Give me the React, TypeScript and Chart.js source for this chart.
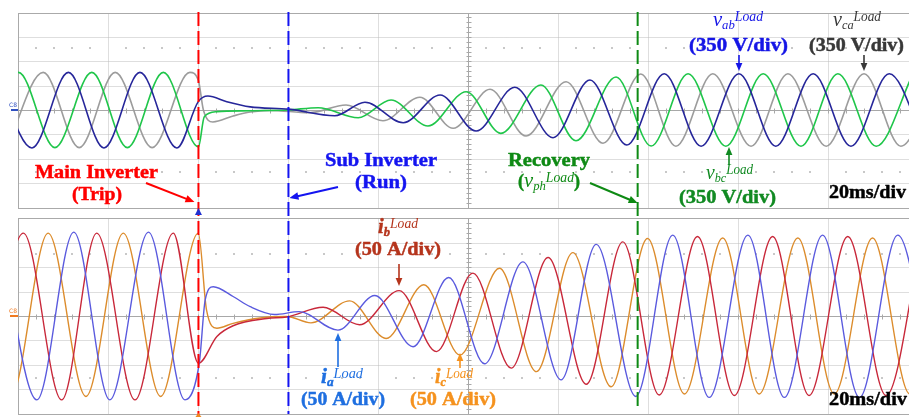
import { useEffect, useRef } from "react";
import { Chart, registerables } from "chart.js";

Chart.register(...registerables);

type Pt = [number, number];

// ---- time base: 20 ms / div ----
const timeGridMs = [0, 20, 40, 60, 80, 100, 120, 140, 160, 180, 200];
// main inverter trip, sub inverter run, recovery
const eventMs = [40.1, 60.1, 137.7];
const voltsPerDiv = 350;
const ampsPerDiv = 50;

// ---- load line voltages (V): extrema, [ms, V] ----
const vabLoad: Pt[] = [
  [-5.0, 540], [3.1, -545], [11.2, 540], [19.1, -545], [27.1, 540], [35.3, -545],
  [40.1, 124], [42.2, 201], [46.4, 119], [51.6, 45], [60.2, 12], [70.4, -82],
  [77.1, 111], [85.6, -182], [93.8, 215], [101.8, -302], [110.4, 326], [118.9, -398],
  [127.1, 431], [135.3, -503], [143.6, 520], [151.8, -520], [160.2, 520], [168.4, -520],
  [176.7, 520], [185.1, -520], [193.6, 520], [201.8, -520],
];
const vbcLoad: Pt[] = [
  [-8.1, -540], [0.1, 540], [8.2, -540], [16.4, 540], [24.3, -540], [32.3, 540],
  [40.1, -530], [41.4, -96], [44.2, -24], [51.6, -10], [60.0, 0], [66.7, 33],
  [75.6, -111], [82.9, 144], [91.1, -230], [99.6, 263], [107.3, -335], [116.2, 359],
  [124.0, -441], [132.9, 474], [140.7, -517], [148.9, 520], [157.3, -520], [165.6, 520],
  [174.0, -520], [182.2, 520], [190.7, -520], [198.9, 520],
];
const vcaLoad: Pt[] = [
  [-2.5, -540], [5.6, 540], [13.6, -540], [21.6, 540], [29.8, -540], [38.2, 540],
  [40.07, 430], [41.2, 0], [43.3, -172], [47.8, -86], [51.6, -29], [56.0, -5],
  [64.7, -40], [72.9, 72], [81.1, -154], [89.3, 182], [96.7, -263], [104.9, 297],
  [112.9, -373], [121.8, 406], [130.0, -478], [138.4, 517], [146.2, -520], [154.4, 520],
  [162.9, -520], [171.1, 520], [179.6, -520], [188.0, 520], [196.2, -520], [204.4, 520],
];

// ---- load currents (A): extrema, [ms, A] ----
const iaLoad: Pt[] = [
  [-4.1, 170], [4.2, -172], [12.4, 172], [20.4, -172], [29.0, 172], [37.1, -172],
  [40.3, -95], [41.6, 33], [43.4, 60], [47.8, 40], [51.6, 19], [57.0, 3], [62.5, 9],
  [71.1, -29], [79.3, 42], [87.8, -63], [95.7, 79], [103.7, -98], [112.2, 111],
  [120.7, -131], [128.5, 147], [137.3, -165], [145.5, 166], [153.6, -167], [162.2, 166],
  [170.3, -167], [178.8, 166], [187.0, -167], [195.5, 166], [203.6, -167],
];
const ibLoad: Pt[] = [
  [-7.1, -170], [1.2, 170], [9.7, -172], [17.5, 170], [26.0, -172], [34.5, 170],
  [40.1, -97], [44.2, -42], [47.8, -20], [55.3, -5], [59.7, -2], [67.8, 18],
  [75.9, -18], [84.7, 52], [93.0, -73], [101.1, 88], [109.6, -107], [117.8, 120],
  [126.3, -140], [134.4, 152], [142.5, -162], [151.0, 163], [159.2, -163], [167.7, 163],
  [175.8, -163], [184.4, 163], [192.9, -163], [200.9, 163],
];
const icLoad: Pt[] = [
  [-9.9, 170], [-1.6, -165], [6.7, 170], [15.1, -165], [23.4, 170], [31.7, -165],
  [40.07, 170], [41.9, 12], [44.2, -25], [47.8, -15], [53.8, -4], [59.7, -1],
  [65.1, -14], [73.7, 31], [81.8, -46], [90.2, 64], [98.2, -80], [107.0, 98],
  [115.2, -114], [123.3, 130], [131.8, -145], [139.9, 159], [148.1, -160], [156.6, 160],
  [164.7, -160], [173.3, 160], [181.4, -160], [189.9, 160], [198.2, -160], [206.4, 160],
];

// ---- layout ----
const W = 909;
const H = 417;
const PLOT_LEFT = 18;
const PX_PER_MS = 4.5;
const DIV_PX = 24.375;
const V_CENTER = 110;
const I_CENTER = 316;
const FONT = "'Liberation Serif', 'DejaVu Serif', serif";

const toXY = (pts: Pt[]) => pts.map(([x, y]) => ({ x, y }));

function drawGrid(chart: any, yId: string, unit: number) {
  const ctx = chart.ctx as CanvasRenderingContext2D;
  const xs = chart.scales.x;
  const ys = chart.scales[yId];
  const px = (t: number) => Math.round(xs.getPixelForValue(t)) + 0.5;
  const py = (v: number) => Math.round(ys.getPixelForValue(v)) + 0.5;
  const left = px(0);
  const right = px(200);
  const top = py(4 * unit);
  const bottom = py(-4 * unit);
  ctx.save();
  ctx.lineWidth = 1;
  ctx.strokeStyle = "#bdbdbd";
  ctx.setLineDash([1, 1]);
  ctx.beginPath();
  for (let k = -3; k <= 3; k++) {
    if (k === 0) continue;
    const y = py(k * unit);
    ctx.moveTo(left, y);
    ctx.lineTo(right, y);
  }
  for (const t of timeGridMs) {
    if (t === 0 || t === 100 || t === 200) continue;
    const x = px(t);
    ctx.moveTo(x, top);
    ctx.lineTo(x, bottom);
  }
  ctx.stroke();
  ctx.setLineDash([]);
  // rows of scope dots
  ctx.fillStyle = "#c8c8c8";
  for (const k of [2.55, -2.55]) {
    const y = Math.round(ys.getPixelForValue(k * unit));
    for (let t = 4; t < 200; t += 4) {
      if (t % 20 === 0) continue;
      const x = Math.round(xs.getPixelForValue(t));
      ctx.fillRect(x - 1, y - 1, 2, 2);
    }
  }
  // centre axes with ticks
  ctx.strokeStyle = "#a8a8a8";
  ctx.beginPath();
  const yc = py(0);
  const xc = px(100);
  ctx.moveTo(left, yc);
  ctx.lineTo(right, yc);
  ctx.moveTo(xc, top);
  ctx.lineTo(xc, bottom);
  for (let t = 4; t < 200; t += 4) {
    const x = px(t);
    ctx.moveTo(x, yc - 2);
    ctx.lineTo(x, yc + 3);
  }
  for (let k = -20; k <= 20; k++) {
    const y = py((k * unit) / 5);
    ctx.moveTo(xc - 2, y);
    ctx.lineTo(xc + 3, y);
  }
  ctx.stroke();
  ctx.strokeStyle = "#aaaaaa";
  ctx.strokeRect(left, top, right - left, bottom - top);
  ctx.restore();
}

function dashV(ctx: CanvasRenderingContext2D, x: number, y0: number, y1: number, color: string) {
  ctx.save();
  ctx.strokeStyle = color;
  ctx.lineWidth = 2;
  ctx.setLineDash([14, 5]);
  ctx.beginPath();
  ctx.moveTo(x, y0);
  ctx.lineTo(x, y1);
  ctx.stroke();
  ctx.restore();
}

function arrow(ctx: CanvasRenderingContext2D, x0: number, y0: number, x1: number, y1: number, color: string, lw = 2, head = 9) {
  const a = Math.atan2(y1 - y0, x1 - x0);
  ctx.save();
  ctx.strokeStyle = color;
  ctx.fillStyle = color;
  ctx.lineWidth = lw;
  ctx.beginPath();
  ctx.moveTo(x0, y0);
  ctx.lineTo(x1 - Math.cos(a) * head * 0.8, y1 - Math.sin(a) * head * 0.8);
  ctx.stroke();
  ctx.beginPath();
  ctx.moveTo(x1, y1);
  ctx.lineTo(x1 - Math.cos(a) * head + Math.sin(a) * head * 0.42, y1 - Math.sin(a) * head - Math.cos(a) * head * 0.42);
  ctx.lineTo(x1 - Math.cos(a) * head - Math.sin(a) * head * 0.42, y1 - Math.sin(a) * head + Math.cos(a) * head * 0.42);
  ctx.closePath();
  ctx.fill();
  ctx.restore();
}

type Seg = { s: string; size: number; bold?: boolean; italic?: boolean; dy?: number };
const segFont = (g: Seg) => `${g.italic ? "italic " : ""}${g.bold ? "bold " : ""}${g.size}px ${FONT}`;

function richText(ctx: CanvasRenderingContext2D, segs: Seg[], x: number, y: number, w: number, color: string) {
  ctx.save();
  let total = 0;
  const widths = segs.map((g) => {
    ctx.font = segFont(g);
    const m = ctx.measureText(g.s).width;
    total += m;
    return m;
  });
  const sx = w / total;
  ctx.translate(x, y);
  ctx.scale(sx, 1);
  ctx.fillStyle = color;
  ctx.strokeStyle = color;
  ctx.lineJoin = "round";
  ctx.textBaseline = "alphabetic";
  let cx = 0;
  segs.forEach((g, i) => {
    ctx.font = segFont(g);
    ctx.fillText(g.s, cx, g.dy || 0);
    if (g.bold) {
      ctx.lineWidth = 0.45;
      ctx.strokeText(g.s, cx, g.dy || 0);
    }
    cx += widths[i];
  });
  ctx.restore();
}

const boldText = (ctx: CanvasRenderingContext2D, s: string, x: number, y: number, w: number, color: string, size = 18.5) =>
  richText(ctx, [{ s, size, bold: true }], x, y, w, color);

const symLabel = (ctx: CanvasRenderingContext2D, main: string, sub: string, x: number, y: number, w: number, color: string, boldMain = false) =>
  richText(
    ctx,
    [
      { s: main, size: 21, italic: true, bold: boldMain },
      { s: sub, size: 13, italic: true, bold: boldMain, dy: 3 },
      { s: "Load", size: 14, italic: true, dy: -5 },
    ],
    x, y, w, color
  );

function drawAnnotations(chart: any) {
  const ctx = chart.ctx as CanvasRenderingContext2D;
  const xs = chart.scales.x;
  const [tTrip, tRun, tRec] = eventMs;
  const xTrip = xs.getPixelForValue(tTrip);
  const xRun = xs.getPixelForValue(tRun);
  const xRec = xs.getPixelForValue(tRec);

  const RED = "#ff0000";
  const BLUE = "#1414f0";
  const GREEN = "#0e8a14";

  dashV(ctx, xTrip, 12, 417, RED);
  dashV(ctx, xRun, 12, 414, BLUE);
  dashV(ctx, xRec, 12, 408, GREEN);

  // trigger marker
  ctx.save();
  ctx.fillStyle = "#2030d0";
  ctx.beginPath();
  ctx.moveTo(xTrip, 208);
  ctx.lineTo(xTrip - 3.5, 215);
  ctx.lineTo(xTrip + 3.5, 215);
  ctx.closePath();
  ctx.fill();
  ctx.fillStyle = "#f08a20";
  ctx.beginPath();
  ctx.moveTo(xTrip, 413);
  ctx.lineTo(xTrip - 3, 417);
  ctx.lineTo(xTrip + 3, 417);
  ctx.closePath();
  ctx.fill();
  // channel markers
  ctx.font = "6px 'DejaVu Sans', sans-serif";
  ctx.fillStyle = "#3050c0";
  ctx.fillText("C8", 9, 107);
  ctx.fillRect(11, 109, 7, 2);
  ctx.fillStyle = "#f07a20";
  ctx.fillText("C8", 9, 313);
  ctx.fillRect(10, 315, 8, 2);
  ctx.restore();

  // event labels
  boldText(ctx, "Main Inverter", 35, 178, 123, RED);
  boldText(ctx, "(Trip)", 72, 200, 50, RED);
  arrow(ctx, 146, 183, xTrip - 4, 202, RED);

  boldText(ctx, "Sub Inverter", 325, 166, 112, BLUE);
  boldText(ctx, "(Run)", 355, 188, 52, BLUE);
  arrow(ctx, 338, 187, xRun + 1, 198, BLUE);

  boldText(ctx, "Recovery", 508, 166, 82, GREEN);
  richText(
    ctx,
    [
      { s: "(", size: 18.5, bold: true },
      { s: "v", size: 21, italic: true },
      { s: "ph", size: 13, italic: true, dy: 3 },
      { s: "Load", size: 14, italic: true, dy: -5 },
      { s: ")", size: 18.5, bold: true },
    ],
    518, 187, 62, GREEN
  );
  arrow(ctx, 590, 183, xRec, 203, GREEN);

  // voltage labels
  const VAB = "#1515e6";
  const VCA = "#383838";
  const VBC = "#118a22";
  symLabel(ctx, "v", "ab", 713, 26, 50, VAB);
  boldText(ctx, "(350 V/div)", 689, 51, 99, VAB);
  arrow(ctx, 739, 55, 739, 71, VAB, 1.6, 8);

  symLabel(ctx, "v", "ca", 833, 26, 48, VCA);
  boldText(ctx, "(350 V/div)", 809, 51, 95, VCA);
  arrow(ctx, 864, 55, 864, 71, VCA, 1.6, 8);

  symLabel(ctx, "v", "bc", 706, 179, 47, VBC);
  boldText(ctx, "(350 V/div)", 679, 203, 97, VBC);
  arrow(ctx, 729, 165, 729, 147, VBC, 1.6, 8);

  boldText(ctx, "20ms/div", 829, 198, 77, "#000000");
  boldText(ctx, "20ms/div", 829, 405, 78, "#000000");

  // current labels
  const IB = "#b5341c";
  const IA = "#1f6fe0";
  const IC = "#f5921e";
  symLabel(ctx, "i", "b", 378, 233, 40, IB, true);
  boldText(ctx, "(50 A/div)", 355, 255, 86, IB);
  arrow(ctx, 399, 264, 399, 286, IB, 1.6, 8);

  symLabel(ctx, "i", "a", 321, 383, 42, IA, true);
  boldText(ctx, "(50 A/div)", 301, 405, 84, IA);
  arrow(ctx, 338, 367, 338, 333, IA, 1.6, 8);

  symLabel(ctx, "i", "c", 435, 383, 38, IC, true);
  boldText(ctx, "(50 A/div)", 410, 405, 86, IC);
  arrow(ctx, 460, 368, 460, 353, IC, 1.6, 8);
}

const scopePlugin = {
  id: "scopeDecor",
  beforeDraw(chart: any) {
    const ctx = chart.ctx as CanvasRenderingContext2D;
    ctx.save();
    ctx.fillStyle = "#ffffff";
    ctx.fillRect(0, 0, chart.width, chart.height);
    ctx.restore();
  },
  beforeDatasetsDraw(chart: any) {
    drawGrid(chart, "yV", voltsPerDiv);
    drawGrid(chart, "yI", ampsPerDiv);
  },
  afterDatasetsDraw(chart: any) {
    drawAnnotations(chart);
  },
};

export default function App() {
  const ref = useRef<HTMLCanvasElement | null>(null);

  useEffect(() => {
    if (!ref.current) return;
    const line = (label: string, pts: Pt[], color: string, axis: string, width: number) => ({
      label,
      data: toXY(pts),
      yAxisID: axis,
      borderColor: color,
      backgroundColor: color,
      borderWidth: width,
      pointRadius: 0,
      fill: false,
      cubicInterpolationMode: "monotone" as const,
    });
    const chart = new Chart(ref.current, {
      type: "line",
      data: {
        datasets: [
          line("vab", vabLoad, "#26269a", "yV", 1.6),
          line("vbc", vbcLoad, "#1fc64a", "yV", 1.6),
          line("vca", vcaLoad, "#9c9c9c", "yV", 1.6),
          line("ia", iaLoad, "#5a5ade", "yI", 1.4),
          line("ib", ibLoad, "#c8283a", "yI", 1.4),
          line("ic", icLoad, "#dc8c2c", "yI", 1.4),
        ],
      },
      options: {
        responsive: false,
        animation: false,
        devicePixelRatio: 1,
        events: [],
        layout: { padding: { left: PLOT_LEFT, right: 0, top: 0, bottom: 0 } },
        plugins: { legend: { display: false }, tooltip: { enabled: false } },
        scales: {
          x: { type: "linear", display: false, min: 0, max: (W - PLOT_LEFT) / PX_PER_MS },
          yV: {
            type: "linear",
            display: false,
            min: (-(H - V_CENTER) / DIV_PX) * voltsPerDiv,
            max: (V_CENTER / DIV_PX) * voltsPerDiv,
          },
          yI: {
            type: "linear",
            display: false,
            min: (-(H - I_CENTER) / DIV_PX) * ampsPerDiv,
            max: (I_CENTER / DIV_PX) * ampsPerDiv,
          },
        },
      },
      plugins: [scopePlugin],
    });
    return () => chart.destroy();
  }, []);

  return (
    <canvas
      ref={ref}
      width={W}
      height={H}
      style={{ position: "fixed", left: 0, top: 0, display: "block", width: W, height: H }}
    />
  );
}
